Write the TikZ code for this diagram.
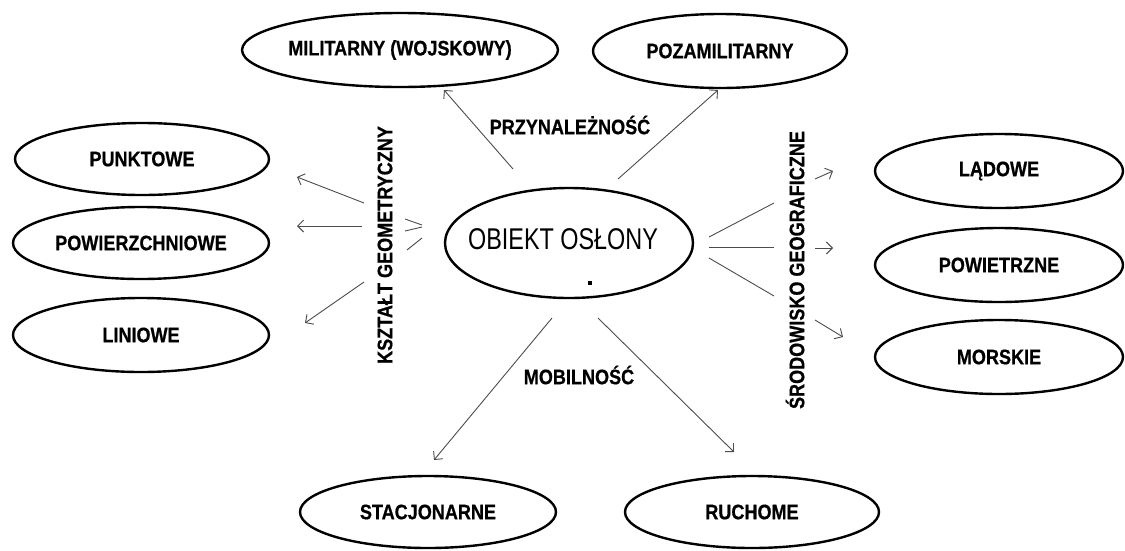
\documentclass[tikz,border=0pt]{standalone}
\usepackage{fontspec}
\newfontfamily\labfont[FakeStretch=0.86, BoldFeatures={FakeBold=0.6}]{Liberation Sans}
\newfontfamily\objfont[FakeStretch=0.78]{Liberation Sans}
\usetikzlibrary{shapes.geometric,arrows.meta}
\begin{document}
\begin{tikzpicture}[x=1pt,y=-1pt,
  oval/.style={ellipse, draw=black, line width=2.4pt, inner sep=0pt,
    font=\labfont\bfseries\fontsize{21}{25}\selectfont},
  conn/.style={draw=black!70, line width=0.9pt},
  arr/.style={conn, -{Straight Barb[length=6pt,width=12pt]}},
  cat/.style={font=\labfont\bfseries\fontsize{21}{25}\selectfont, inner sep=0pt}]
\useasboundingbox (0,0) rectangle (1125,550);
\fill[white] (0,0) rectangle (1125,550);

% central node
\node[oval, minimum width=248pt, minimum height=110pt] (obj) at (569,243) {};
\node[inner sep=0pt, font=\objfont\fontsize{30}{35}\selectfont] (objt) at (563,239) {OBIEKT OSŁONY};
\fill (588,281) rectangle (592,285);

% outer ellipses
\node[oval, minimum width=274pt, minimum height=74pt] (mil) at (400,50) {MILITARNY (WOJSKOWY)};
\node[oval, minimum width=254pt, minimum height=74pt] (poz) at (720,51) {POZAMILITARNY};
\node[oval, minimum width=254pt, minimum height=72pt] (pun) at (142,159) {PUNKTOWE};
\node[oval, minimum width=256pt, minimum height=72pt] (pow) at (141,243) {POWIERZCHNIOWE};
\node[oval, minimum width=256pt, minimum height=74pt] (lin) at (141,335) {LINIOWE};
\node[oval, minimum width=248pt, minimum height=74pt] (lad) at (999,171) {LĄDOWE};
\node[oval, minimum width=248pt, minimum height=74pt] (pwt) at (999,265) {POWIETRZNE};
\node[oval, minimum width=248pt, minimum height=74pt] (mor) at (999,357) {MORSKIE};
\node[oval, minimum width=256pt, minimum height=72pt] (sta) at (428,512) {STACJONARNE};
\node[oval, minimum width=254pt, minimum height=72pt] (ruc) at (752,512) {RUCHOME};

% category labels
\node[cat] (prz) at (570,125) {PRZYNALEŻNOŚĆ};
\node[cat] (mob) at (579,375) {MOBILNOŚĆ};
\node[cat, rotate=90] (ksz) at (385,245) {KSZTAŁT GEOMETRYCZNY};
\node[cat, rotate=90] (sro) at (795,270) {ŚRODOWISKO GEOGRAFICZNE};

% connector end points
\coordinate (p1s) at (513,169); \coordinate (p1e) at (444,90);
\coordinate (p2s) at (618,179); \coordinate (p2e) at (718,90);
\coordinate (k1s) at (364,203); \coordinate (k1e) at (297,177);
\coordinate (k2s) at (362,226); \coordinate (k2e) at (297,226);
\coordinate (k3s) at (364,282); \coordinate (k3e) at (305,323);
\coordinate (o1a) at (422,225); \coordinate (o1b) at (405,219);
\coordinate (o2a) at (422,227); \coordinate (o2b) at (405,231);
\coordinate (o3a) at (422,238); \coordinate (o3b) at (407,250);
\coordinate (r1a) at (709,237); \coordinate (r1b) at (774,203);
\coordinate (r2a) at (709,247); \coordinate (r2b) at (774,247);
\coordinate (r3a) at (709,258); \coordinate (r3b) at (774,296);
\coordinate (s1s) at (815,179); \coordinate (s1e) at (833,171);
\coordinate (s2s) at (815,248); \coordinate (s2e) at (833,248);
\coordinate (s3s) at (815,320); \coordinate (s3e) at (843,337);
\coordinate (m1s) at (552,318); \coordinate (m1e) at (434,460);
\coordinate (m2s) at (598,318); \coordinate (m2e) at (734,452);

% connectors
\draw[arr] (p1s) -- (p1e);
\draw[arr] (p2s) -- (p2e);
\draw[arr] (k1s) -- (k1e);
\draw[arr] (k2s) -- (k2e);
\draw[arr] (k3s) -- (k3e);
\draw[conn] (o1a) -- (o1b);
\draw[conn] (o2a) -- (o2b);
\draw[conn] (o3a) -- (o3b);
\draw[conn] (r1a) -- (r1b);
\draw[conn] (r2a) -- (r2b);
\draw[conn] (r3a) -- (r3b);
\draw[arr] (s1s) -- (s1e);
\draw[arr] (s2s) -- (s2e);
\draw[arr] (s3s) -- (s3e);
\draw[arr] (m1s) -- (m1e);
\draw[arr] (m2s) -- (m2e);
\end{tikzpicture}
\end{document}
